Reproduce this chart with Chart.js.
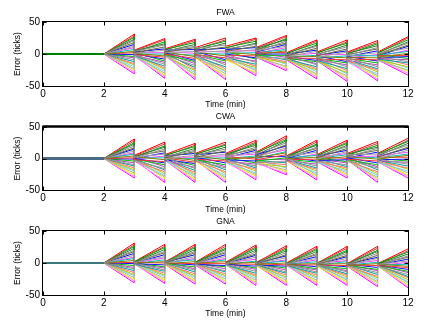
<!DOCTYPE html>
<html><head><meta charset="utf-8">
<script src="https://cdn.jsdelivr.net/npm/chart.js@4"></script>
<style>
html,body{margin:0;padding:0;background:#fff;width:429px;height:325px;overflow:hidden}
canvas{position:absolute;left:0}
</style></head><body>
<canvas id="c1" width="429" height="112" style="top:0px"></canvas>
<canvas id="c2" width="429" height="112" style="top:105px"></canvas>
<canvas id="c3" width="429" height="112" style="top:209px"></canvas>
<script>
// time breakpoints (min): flat 0..2, then one fan per minute 2..12
const TIME_BREAKS = [0, 2, 3, 4, 5, 6, 7, 8, 9, 10, 11, 12];
const TITLES = ['FWA', 'CWA', 'GNA'];
const X_LABEL = 'Time (min)';
const Y_LABEL = 'Error (ticks)';

// end values of every line at t = 3..12 (one array per minute, top line -> bottom line)
const FWA_END = [
 [31,28,26,23,21,18,15,12,10,7,4,2,-1,-4,-6,-9,-12,-15,-17,-20,-23,-25,-28,-31],
 [24,22,19,16,14,11,8,6,2,0,-3,-5,-8,-11,-13,-16,-19,-22,-24,-27,-30,-33,-35,-38],
 [23,21,18,15,12,10,7,4,1,-2,-4,-7,-10,-12,-15,-18,-21,-24,-26,-29,-32,-34,-37,-40],
 [25,22,20,17,14,11,9,5,3,0,-3,-6,-9,-11,-14,-17,-20,-23,-26,-28,-31,-34,-37,-40],
 [25,23,20,17,15,12,10,7,5,2,-1,-3,-6,-8,-11,-13,-16,-19,-21,-24,-26,-29,-31,-34],
 [29,27,24,22,20,17,15,12,10,7,5,2,0,-2,-5,-7,-9,-12,-14,-16,-19,-21,-24,-26],
 [22,20,17,14,12,9,6,4,1,-2,-4,-7,-10,-12,-15,-17,-20,-23,-25,-28,-31,-33,-36,-39],
 [22,19,17,14,11,8,5,3,-1,-3,-6,-9,-12,-14,-17,-20,-23,-26,-29,-31,-34,-37,-40,-43],
 [21,18,16,13,10,8,5,2,-1,-3,-6,-9,-11,-14,-17,-20,-23,-25,-28,-31,-34,-36,-39,-42],
 [27,25,22,19,17,14,12,9,6,4,1,-2,-4,-7,-9,-12,-14,-17,-20,-22,-25,-27,-30,-33]
];
// restart values of every line at t = 3..11
const FWA_START = [
 [6,5,3,5,4,2,3,1,2,0,1,-1,0,2,-2,-1,-3,0,-2,-4,-3,-1,-4,-2],
 [8,6,7,4,5,3,6,2,4,1,3,0,2,-1,1,-2,0,3,-3,-1,-2,1,-3,-1],
 [10,7,8,5,9,4,6,2,5,1,3,-1,4,0,-2,2,-4,-1,-5,1,-3,-6,-2,-4],
 [12,9,10,6,8,4,7,2,5,1,3,-2,0,4,-4,-1,-6,-3,-8,-2,-5,-9,-7,-6],
 [10,8,6,9,4,7,3,5,1,2,-1,3,0,-2,1,-4,-1,-3,-5,0,-6,-2,-4,-5],
 [2,0,1,-2,-1,-3,0,-4,-2,-5,-3,-6,-4,-7,-5,-2,-8,-6,-9,-4,-7,-8,-5,-9],
 [3,1,2,-1,0,-3,-2,-5,-1,-6,-4,-8,-3,-7,-9,-5,-10,-6,-11,-8,-12,-9,-7,-10],
 [3,2,0,1,-2,-1,-4,-3,-6,-2,-5,-8,-4,-7,-10,-6,-9,-11,-8,-12,-7,-10,-12,-9],
 [3,1,2,-1,0,-2,-3,1,-4,-2,-5,-3,-6,-1,-7,-4,-8,-5,-9,-6,-10,-7,-8,-9]
];

const CWA_END = [
 [31,28,25,23,20,17,15,12,9,7,4,1,-1,-4,-7,-10,-12,-15,-18,-20,-23,-26,-29,-31],
 [26,23,20,18,15,12,9,7,4,1,-2,-5,-7,-10,-13,-16,-18,-21,-24,-27,-29,-32,-35,-38],
 [24,21,19,16,13,11,8,5,2,0,-3,-6,-8,-11,-14,-16,-19,-22,-25,-27,-30,-33,-35,-38],
 [26,23,21,18,15,12,10,7,4,1,-2,-4,-7,-10,-13,-15,-18,-21,-24,-27,-30,-32,-35,-38],
 [29,26,24,21,18,15,13,10,7,4,2,-1,-4,-7,-9,-12,-15,-17,-20,-23,-26,-28,-31,-34],
 [36,33,30,28,25,22,20,17,14,11,9,6,3,1,-2,-5,-7,-10,-13,-15,-18,-21,-23,-26],
 [29,26,23,21,18,16,13,10,7,5,2,-1,-4,-6,-9,-12,-15,-17,-20,-23,-26,-28,-31,-34],
 [29,26,24,21,19,16,13,11,8,6,3,0,-2,-5,-7,-10,-13,-15,-18,-20,-23,-26,-28,-31],
 [27,24,21,18,16,13,10,7,4,2,-1,-4,-7,-10,-13,-15,-18,-21,-24,-27,-30,-32,-35,-38],
 [32,29,27,24,21,18,16,13,10,7,5,2,-1,-4,-6,-9,-12,-15,-17,-20,-23,-26,-28,-31]
];
const CWA_START = [
 [5,4,2,3,1,4,0,2,-1,1,3,-2,0,-1,2,-3,-1,-4,0,-2,-3,1,-4,-2],
 [6,4,5,2,3,1,4,0,2,-1,3,1,-2,0,-3,2,-1,-2,1,-3,0,-1,-3,-2],
 [8,6,7,4,5,2,6,1,3,0,4,-1,2,-2,1,-3,0,-4,3,-2,-1,-4,-3,-2],
 [8,6,4,7,3,5,1,2,4,0,-1,3,-2,1,-4,-3,0,-5,-2,-6,-1,-4,-6,-3],
 [10,8,9,5,7,3,6,2,4,0,1,-2,3,-4,-1,-6,-3,-5,-8,-2,-7,-4,-8,-6],
 [4,3,2,4,1,2,0,3,-1,1,0,-2,2,-1,-3,0,-2,-4,-1,-3,1,-4,-2,-3],
 [6,4,5,2,3,1,4,-1,2,0,-2,3,-3,1,-1,-4,0,-5,-2,-6,-3,-1,-4,-5],
 [8,6,5,7,3,4,1,6,2,0,3,-1,1,-2,0,-3,2,-4,-1,-2,-4,-3,0,-2],
 [8,5,7,4,6,2,3,0,4,1,-1,2,-2,0,-4,-1,-3,-5,-2,-6,-3,-4,-6,-5]
];

const GNA_END = [
 [31,28,26,23,20,18,15,12,9,7,4,1,-1,-4,-7,-9,-12,-15,-18,-20,-23,-26,-28,-31],
 [29,26,24,21,18,16,13,10,8,5,2,0,-3,-6,-8,-11,-13,-16,-19,-21,-24,-27,-29,-32],
 [29,26,24,21,18,16,13,10,7,5,2,-1,-3,-6,-9,-11,-14,-17,-20,-22,-25,-28,-30,-33],
 [29,26,23,21,18,16,13,10,7,5,2,-1,-4,-6,-9,-12,-14,-17,-20,-22,-25,-28,-31,-33],
 [28,25,23,20,17,14,12,9,6,3,1,-2,-5,-8,-10,-13,-16,-19,-21,-24,-27,-30,-32,-35],
 [27,24,22,19,16,13,11,8,5,3,0,-3,-5,-8,-11,-14,-16,-19,-22,-24,-27,-30,-32,-35],
 [26,23,21,18,15,13,10,7,5,2,-1,-3,-6,-9,-11,-14,-16,-19,-22,-24,-27,-30,-32,-35],
 [26,23,20,18,15,12,10,7,4,2,-1,-4,-6,-9,-12,-14,-17,-19,-22,-25,-27,-30,-33,-35],
 [26,23,20,18,15,12,9,7,4,1,-1,-4,-7,-10,-12,-15,-18,-21,-23,-26,-29,-31,-34,-37],
 [22,19,17,14,11,9,6,3,1,-2,-5,-7,-10,-13,-15,-18,-21,-23,-26,-29,-31,-34,-37,-39]
];
const GNA_START = [
 [2,1,2,1,0,1,0,1,0,-1,0,1,-1,0,-1,0,-2,-1,0,-1,-2,-1,-2,-1],
 [1,2,1,0,1,0,1,-1,0,1,-1,0,0,-1,1,-1,0,-2,-1,0,-1,-2,-1,-2],
 [1,0,1,0,-1,0,-1,0,-1,-2,0,-1,-2,-1,0,-2,-1,-3,-1,-2,-3,-1,-2,-3],
 [1,1,0,0,-1,0,-1,-1,0,-2,-1,-1,-2,0,-1,-2,-3,-1,-2,-2,-3,-2,-3,-2],
 [0,1,-1,0,-1,-2,0,-1,-2,-1,-2,-1,-3,-2,-1,-2,-3,-2,-3,-2,-3,-4,-3,-3],
 [0,0,-1,-1,-2,-1,-2,-1,-3,-2,-2,-3,-1,-2,-3,-2,-4,-3,-2,-3,-4,-3,-4,-3],
 [-1,0,-1,-2,-1,-2,-3,-2,-1,-3,-2,-3,-2,-4,-3,-2,-3,-4,-3,-4,-3,-5,-4,-4],
 [-1,-1,-2,-1,-2,-3,-2,-3,-2,-3,-4,-3,-2,-4,-3,-4,-3,-5,-4,-3,-4,-5,-4,-5],
 [-1,-2,-1,-2,-3,-2,-3,-2,-4,-3,-2,-4,-3,-4,-3,-5,-4,-3,-4,-5,-4,-5,-5,-4]
];

const COLORS = ['#ff0000','#d04040','#00a000','#2e7d32','#8c8c8c','#6b6b3a','#0000ff','#a0a0a0',
 '#ff40ff','#00bfbf','#7f7f00','#ff3030','#1010ff','#00c000','#c040c0','#909090',
 '#00a0a0','#ff7070','#c0c000','#60e0e0','#b0b0b0','#e8e800','#ff90ff','#ff00ff'];
// lines drawn last (on top): the grey/olive ones, as in the reference
const ON_TOP = [4, 5, 7, 10, 15, 20];
const FLAT_COLORS = ['#008000', '#4a6a86', '#3d7878'];

Chart.defaults.font.family = "'Liberation Sans', Arial, sans-serif";
Chart.defaults.color = '#000';

const boxPlugin = {
  id: 'box',
  afterDatasetsDraw(chart, args, opts) {
    const {ctx, chartArea: {left, right, top, bottom}, scales: {x, y}} = chart;
    const L = left - 0.5, R = right + 0.5, T = top - 0.5, B = bottom + 0.5;
    ctx.save();
    ctx.strokeStyle = '#000';
    ctx.lineWidth = 1;
    ctx.strokeRect(L, T, R - L, B - T);
    if (opts.topWidth > 1) {
      ctx.lineWidth = opts.topWidth;
      ctx.beginPath(); ctx.moveTo(L, T); ctx.lineTo(R, T); ctx.stroke();
      ctx.lineWidth = 1;
    }
    ctx.beginPath();
    x.ticks.forEach(t => {
      const px = Math.round(x.getPixelForValue(t.value)) + 0.5;
      ctx.moveTo(px, T); ctx.lineTo(px, T + 4);
      ctx.moveTo(px, B); ctx.lineTo(px, B - 4);
    });
    y.ticks.forEach(t => {
      const py = Math.round(y.getPixelForValue(t.value)) + 0.5;
      ctx.moveTo(L, py); ctx.lineTo(L + 4, py);
      ctx.moveTo(R, py); ctx.lineTo(R - 4, py);
    });
    ctx.stroke();
    ctx.restore();
  }
};

function buildDatasets(ends, starts, flat, flatWidth) {
  const n = ends[0].length;
  const mid = (n - 1) / 2;
  const sets = [];
  for (let r = 0; r < n; r++) {
    const pts = [{x: TIME_BREAKS[0], y: 0}, {x: TIME_BREAKS[1], y: 0}];
    for (let k = 0; k < ends.length; k++) {
      const t = TIME_BREAKS[k + 2];
      pts.push({x: t, y: ends[k][r]});
      if (k < starts.length) pts.push({x: t, y: starts[k][r]});
    }
    sets.push({
      data: pts,
      order: ON_TOP.includes(r) ? 0 : 1 + Math.abs(r - mid),
      borderColor: COLORS[r % COLORS.length],
      borderWidth: 1,
      pointRadius: 0,
      fill: false,
      tension: 0,
      segment: {
        borderColor: c => c.p1.parsed.x <= 2 ? flat : undefined,
        borderWidth: c => c.p1.parsed.x <= 2 ? flatWidth : undefined
      }
    });
  }
  return sets;
}

function makeChart(id, idx, ends, starts, lay) {
  return new Chart(document.getElementById(id), {
    type: 'line',
    data: {datasets: buildDatasets(ends, starts, FLAT_COLORS[idx], lay.flatWidth)},
    options: {
      responsive: false, animation: false, devicePixelRatio: 1, events: [],
      layout: {padding: {left: 0, right: 21, top: 0, bottom: 0}},
      plugins: {
        legend: {display: false}, tooltip: {enabled: false},
        title: {display: true, text: TITLES[idx], fullSize: false, color: '#000',
          font: {size: 8.5, weight: 'normal'}, padding: {top: lay.tpt, bottom: lay.tpb}},
        box: {topWidth: lay.topWidth}
      },
      scales: {
        x: {type: 'linear', min: 0, max: 12,
          ticks: {stepSize: 2, autoSkip: false, maxRotation: 0, padding: 2, font: {size: 10}, color: '#000'},
          grid: {display: false, drawTicks: false}, border: {display: false},
          title: {display: true, text: X_LABEL, font: {size: 8.5}, color: '#000', padding: {top: 0, bottom: lay.xpb}},
          afterFit: s => { s.height = lay.xh; }
        },
        y: {min: -50, max: 50,
          ticks: {stepSize: 50, padding: 3, font: {size: 10}, color: '#000'},
          grid: {display: false, drawTicks: false}, border: {display: false},
          title: {display: true, text: Y_LABEL, font: {size: 8.5}, color: '#000', padding: {top: 12.4, bottom: 0}},
          afterFit: s => { s.width = 43; }
        }
      }
    },
    plugins: [boxPlugin]
  });
}

makeChart('c1', 0, FWA_END, FWA_START, {tpt: 7.9, tpb: 3.9, xh: 26, xpb: 2.4, topWidth: 1, flatWidth: 2});
makeChart('c2', 1, CWA_END, CWA_START, {tpt: 6.4, tpb: 5.4, xh: 27, xpb: 1.9, topWidth: 2.5, flatWidth: 2.5});
makeChart('c3', 2, GNA_END, GNA_START, {tpt: 7.4, tpb: 4.4, xh: 26, xpb: 1.9, topWidth: 1, flatWidth: 2});
</script>
</body></html>
